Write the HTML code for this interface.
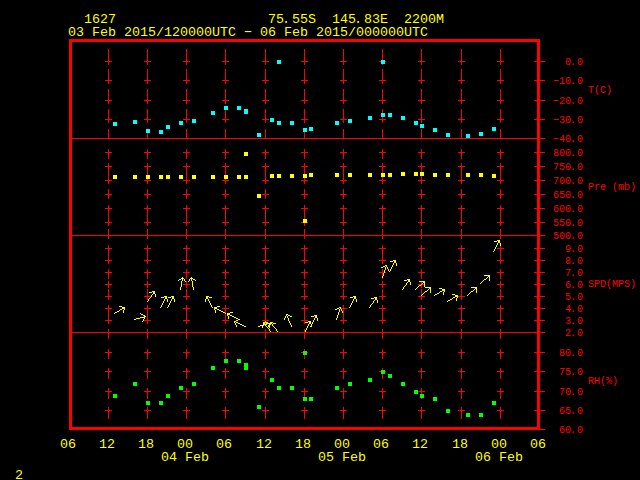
<!DOCTYPE html>
<html><head><meta charset="utf-8"><title>Meteogram 1627</title>
<style>html,body{margin:0;padding:0;background:#000;overflow:hidden}svg{display:block}</style></head>
<body>
<svg width="640" height="480" viewBox="0 0 640 480" shape-rendering="crispEdges">
<rect width="640" height="480" fill="#000"/>
<path fill="#ff0000" d="M108 49h1v10h-1zM108 69h1v10h-1zM108 89h1v10h-1zM108 109h1v10h-1zM108 129h1v10h-1zM108 149h1v10h-1zM108 169h1v10h-1zM108 189h1v10h-1zM108 209h1v10h-1zM108 229h1v10h-1zM108 249h1v10h-1zM108 269h1v10h-1zM108 289h1v10h-1zM108 309h1v10h-1zM108 329h1v10h-1zM108 349h1v10h-1zM108 369h1v10h-1zM108 389h1v10h-1zM108 409h1v10h-1zM105 61h7v1h-7zM108 58h1v7h-1zM105 80h7v1h-7zM108 77h1v7h-1zM105 100h7v1h-7zM108 97h1v7h-1zM105 119h7v1h-7zM108 116h1v7h-1zM105 152h7v1h-7zM108 149h1v7h-1zM105 166h7v1h-7zM108 163h1v7h-1zM105 180h7v1h-7zM108 177h1v7h-1zM105 194h7v1h-7zM108 191h1v7h-1zM105 208h7v1h-7zM108 205h1v7h-1zM105 222h7v1h-7zM108 219h1v7h-1zM105 248h7v1h-7zM108 245h1v7h-1zM105 260h7v1h-7zM108 257h1v7h-1zM105 272h7v1h-7zM108 269h1v7h-1zM105 284h7v1h-7zM108 281h1v7h-1zM105 296h7v1h-7zM108 293h1v7h-1zM105 308h7v1h-7zM108 305h1v7h-1zM105 320h7v1h-7zM108 317h1v7h-1zM105 352h7v1h-7zM108 349h1v7h-1zM105 371h7v1h-7zM108 368h1v7h-1zM105 391h7v1h-7zM108 388h1v7h-1zM105 410h7v1h-7zM108 407h1v7h-1zM147 49h1v10h-1zM147 69h1v10h-1zM147 89h1v10h-1zM147 109h1v10h-1zM147 129h1v10h-1zM147 149h1v10h-1zM147 169h1v10h-1zM147 189h1v10h-1zM147 209h1v10h-1zM147 229h1v10h-1zM147 249h1v10h-1zM147 269h1v10h-1zM147 289h1v10h-1zM147 309h1v10h-1zM147 329h1v10h-1zM147 349h1v10h-1zM147 369h1v10h-1zM147 389h1v10h-1zM147 409h1v10h-1zM144 61h7v1h-7zM147 58h1v7h-1zM144 80h7v1h-7zM147 77h1v7h-1zM144 100h7v1h-7zM147 97h1v7h-1zM144 119h7v1h-7zM147 116h1v7h-1zM144 152h7v1h-7zM147 149h1v7h-1zM144 166h7v1h-7zM147 163h1v7h-1zM144 180h7v1h-7zM147 177h1v7h-1zM144 194h7v1h-7zM147 191h1v7h-1zM144 208h7v1h-7zM147 205h1v7h-1zM144 222h7v1h-7zM147 219h1v7h-1zM144 248h7v1h-7zM147 245h1v7h-1zM144 260h7v1h-7zM147 257h1v7h-1zM144 272h7v1h-7zM147 269h1v7h-1zM144 284h7v1h-7zM147 281h1v7h-1zM144 296h7v1h-7zM147 293h1v7h-1zM144 308h7v1h-7zM147 305h1v7h-1zM144 320h7v1h-7zM147 317h1v7h-1zM144 352h7v1h-7zM147 349h1v7h-1zM144 371h7v1h-7zM147 368h1v7h-1zM144 391h7v1h-7zM147 388h1v7h-1zM144 410h7v1h-7zM147 407h1v7h-1zM186 49h1v10h-1zM186 69h1v10h-1zM186 89h1v10h-1zM186 109h1v10h-1zM186 129h1v10h-1zM186 149h1v10h-1zM186 169h1v10h-1zM186 189h1v10h-1zM186 209h1v10h-1zM186 229h1v10h-1zM186 249h1v10h-1zM186 269h1v10h-1zM186 289h1v10h-1zM186 309h1v10h-1zM186 329h1v10h-1zM186 349h1v10h-1zM186 369h1v10h-1zM186 389h1v10h-1zM186 409h1v10h-1zM183 61h7v1h-7zM186 58h1v7h-1zM183 80h7v1h-7zM186 77h1v7h-1zM183 100h7v1h-7zM186 97h1v7h-1zM183 119h7v1h-7zM186 116h1v7h-1zM183 152h7v1h-7zM186 149h1v7h-1zM183 166h7v1h-7zM186 163h1v7h-1zM183 180h7v1h-7zM186 177h1v7h-1zM183 194h7v1h-7zM186 191h1v7h-1zM183 208h7v1h-7zM186 205h1v7h-1zM183 222h7v1h-7zM186 219h1v7h-1zM183 248h7v1h-7zM186 245h1v7h-1zM183 260h7v1h-7zM186 257h1v7h-1zM183 272h7v1h-7zM186 269h1v7h-1zM183 284h7v1h-7zM186 281h1v7h-1zM183 296h7v1h-7zM186 293h1v7h-1zM183 308h7v1h-7zM186 305h1v7h-1zM183 320h7v1h-7zM186 317h1v7h-1zM183 352h7v1h-7zM186 349h1v7h-1zM183 371h7v1h-7zM186 368h1v7h-1zM183 391h7v1h-7zM186 388h1v7h-1zM183 410h7v1h-7zM186 407h1v7h-1zM225 49h1v10h-1zM225 69h1v10h-1zM225 89h1v10h-1zM225 109h1v10h-1zM225 129h1v10h-1zM225 149h1v10h-1zM225 169h1v10h-1zM225 189h1v10h-1zM225 209h1v10h-1zM225 229h1v10h-1zM225 249h1v10h-1zM225 269h1v10h-1zM225 289h1v10h-1zM225 309h1v10h-1zM225 329h1v10h-1zM225 349h1v10h-1zM225 369h1v10h-1zM225 389h1v10h-1zM225 409h1v10h-1zM222 61h7v1h-7zM225 58h1v7h-1zM222 80h7v1h-7zM225 77h1v7h-1zM222 100h7v1h-7zM225 97h1v7h-1zM222 119h7v1h-7zM225 116h1v7h-1zM222 152h7v1h-7zM225 149h1v7h-1zM222 166h7v1h-7zM225 163h1v7h-1zM222 180h7v1h-7zM225 177h1v7h-1zM222 194h7v1h-7zM225 191h1v7h-1zM222 208h7v1h-7zM225 205h1v7h-1zM222 222h7v1h-7zM225 219h1v7h-1zM222 248h7v1h-7zM225 245h1v7h-1zM222 260h7v1h-7zM225 257h1v7h-1zM222 272h7v1h-7zM225 269h1v7h-1zM222 284h7v1h-7zM225 281h1v7h-1zM222 296h7v1h-7zM225 293h1v7h-1zM222 308h7v1h-7zM225 305h1v7h-1zM222 320h7v1h-7zM225 317h1v7h-1zM222 352h7v1h-7zM225 349h1v7h-1zM222 371h7v1h-7zM225 368h1v7h-1zM222 391h7v1h-7zM225 388h1v7h-1zM222 410h7v1h-7zM225 407h1v7h-1zM265 49h1v10h-1zM265 69h1v10h-1zM265 89h1v10h-1zM265 109h1v10h-1zM265 129h1v10h-1zM265 149h1v10h-1zM265 169h1v10h-1zM265 189h1v10h-1zM265 209h1v10h-1zM265 229h1v10h-1zM265 249h1v10h-1zM265 269h1v10h-1zM265 289h1v10h-1zM265 309h1v10h-1zM265 329h1v10h-1zM265 349h1v10h-1zM265 369h1v10h-1zM265 389h1v10h-1zM265 409h1v10h-1zM262 61h7v1h-7zM265 58h1v7h-1zM262 80h7v1h-7zM265 77h1v7h-1zM262 100h7v1h-7zM265 97h1v7h-1zM262 119h7v1h-7zM265 116h1v7h-1zM262 152h7v1h-7zM265 149h1v7h-1zM262 166h7v1h-7zM265 163h1v7h-1zM262 180h7v1h-7zM265 177h1v7h-1zM262 194h7v1h-7zM265 191h1v7h-1zM262 208h7v1h-7zM265 205h1v7h-1zM262 222h7v1h-7zM265 219h1v7h-1zM262 248h7v1h-7zM265 245h1v7h-1zM262 260h7v1h-7zM265 257h1v7h-1zM262 272h7v1h-7zM265 269h1v7h-1zM262 284h7v1h-7zM265 281h1v7h-1zM262 296h7v1h-7zM265 293h1v7h-1zM262 308h7v1h-7zM265 305h1v7h-1zM262 320h7v1h-7zM265 317h1v7h-1zM262 352h7v1h-7zM265 349h1v7h-1zM262 371h7v1h-7zM265 368h1v7h-1zM262 391h7v1h-7zM265 388h1v7h-1zM262 410h7v1h-7zM265 407h1v7h-1zM304 49h1v10h-1zM304 69h1v10h-1zM304 89h1v10h-1zM304 109h1v10h-1zM304 129h1v10h-1zM304 149h1v10h-1zM304 169h1v10h-1zM304 189h1v10h-1zM304 209h1v10h-1zM304 229h1v10h-1zM304 249h1v10h-1zM304 269h1v10h-1zM304 289h1v10h-1zM304 309h1v10h-1zM304 329h1v10h-1zM304 349h1v10h-1zM304 369h1v10h-1zM304 389h1v10h-1zM304 409h1v10h-1zM301 61h7v1h-7zM304 58h1v7h-1zM301 80h7v1h-7zM304 77h1v7h-1zM301 100h7v1h-7zM304 97h1v7h-1zM301 119h7v1h-7zM304 116h1v7h-1zM301 152h7v1h-7zM304 149h1v7h-1zM301 166h7v1h-7zM304 163h1v7h-1zM301 180h7v1h-7zM304 177h1v7h-1zM301 194h7v1h-7zM304 191h1v7h-1zM301 208h7v1h-7zM304 205h1v7h-1zM301 222h7v1h-7zM304 219h1v7h-1zM301 248h7v1h-7zM304 245h1v7h-1zM301 260h7v1h-7zM304 257h1v7h-1zM301 272h7v1h-7zM304 269h1v7h-1zM301 284h7v1h-7zM304 281h1v7h-1zM301 296h7v1h-7zM304 293h1v7h-1zM301 308h7v1h-7zM304 305h1v7h-1zM301 320h7v1h-7zM304 317h1v7h-1zM301 352h7v1h-7zM304 349h1v7h-1zM301 371h7v1h-7zM304 368h1v7h-1zM301 391h7v1h-7zM304 388h1v7h-1zM301 410h7v1h-7zM304 407h1v7h-1zM343 49h1v10h-1zM343 69h1v10h-1zM343 89h1v10h-1zM343 109h1v10h-1zM343 129h1v10h-1zM343 149h1v10h-1zM343 169h1v10h-1zM343 189h1v10h-1zM343 209h1v10h-1zM343 229h1v10h-1zM343 249h1v10h-1zM343 269h1v10h-1zM343 289h1v10h-1zM343 309h1v10h-1zM343 329h1v10h-1zM343 349h1v10h-1zM343 369h1v10h-1zM343 389h1v10h-1zM343 409h1v10h-1zM340 61h7v1h-7zM343 58h1v7h-1zM340 80h7v1h-7zM343 77h1v7h-1zM340 100h7v1h-7zM343 97h1v7h-1zM340 119h7v1h-7zM343 116h1v7h-1zM340 152h7v1h-7zM343 149h1v7h-1zM340 166h7v1h-7zM343 163h1v7h-1zM340 180h7v1h-7zM343 177h1v7h-1zM340 194h7v1h-7zM343 191h1v7h-1zM340 208h7v1h-7zM343 205h1v7h-1zM340 222h7v1h-7zM343 219h1v7h-1zM340 248h7v1h-7zM343 245h1v7h-1zM340 260h7v1h-7zM343 257h1v7h-1zM340 272h7v1h-7zM343 269h1v7h-1zM340 284h7v1h-7zM343 281h1v7h-1zM340 296h7v1h-7zM343 293h1v7h-1zM340 308h7v1h-7zM343 305h1v7h-1zM340 320h7v1h-7zM343 317h1v7h-1zM340 352h7v1h-7zM343 349h1v7h-1zM340 371h7v1h-7zM343 368h1v7h-1zM340 391h7v1h-7zM343 388h1v7h-1zM340 410h7v1h-7zM343 407h1v7h-1zM382 49h1v10h-1zM382 69h1v10h-1zM382 89h1v10h-1zM382 109h1v10h-1zM382 129h1v10h-1zM382 149h1v10h-1zM382 169h1v10h-1zM382 189h1v10h-1zM382 209h1v10h-1zM382 229h1v10h-1zM382 249h1v10h-1zM382 269h1v10h-1zM382 289h1v10h-1zM382 309h1v10h-1zM382 329h1v10h-1zM382 349h1v10h-1zM382 369h1v10h-1zM382 389h1v10h-1zM382 409h1v10h-1zM379 61h7v1h-7zM382 58h1v7h-1zM379 80h7v1h-7zM382 77h1v7h-1zM379 100h7v1h-7zM382 97h1v7h-1zM379 119h7v1h-7zM382 116h1v7h-1zM379 152h7v1h-7zM382 149h1v7h-1zM379 166h7v1h-7zM382 163h1v7h-1zM379 180h7v1h-7zM382 177h1v7h-1zM379 194h7v1h-7zM382 191h1v7h-1zM379 208h7v1h-7zM382 205h1v7h-1zM379 222h7v1h-7zM382 219h1v7h-1zM379 248h7v1h-7zM382 245h1v7h-1zM379 260h7v1h-7zM382 257h1v7h-1zM379 272h7v1h-7zM382 269h1v7h-1zM379 284h7v1h-7zM382 281h1v7h-1zM379 296h7v1h-7zM382 293h1v7h-1zM379 308h7v1h-7zM382 305h1v7h-1zM379 320h7v1h-7zM382 317h1v7h-1zM379 352h7v1h-7zM382 349h1v7h-1zM379 371h7v1h-7zM382 368h1v7h-1zM379 391h7v1h-7zM382 388h1v7h-1zM379 410h7v1h-7zM382 407h1v7h-1zM421 49h1v10h-1zM421 69h1v10h-1zM421 89h1v10h-1zM421 109h1v10h-1zM421 129h1v10h-1zM421 149h1v10h-1zM421 169h1v10h-1zM421 189h1v10h-1zM421 209h1v10h-1zM421 229h1v10h-1zM421 249h1v10h-1zM421 269h1v10h-1zM421 289h1v10h-1zM421 309h1v10h-1zM421 329h1v10h-1zM421 349h1v10h-1zM421 369h1v10h-1zM421 389h1v10h-1zM421 409h1v10h-1zM418 61h7v1h-7zM421 58h1v7h-1zM418 80h7v1h-7zM421 77h1v7h-1zM418 100h7v1h-7zM421 97h1v7h-1zM418 119h7v1h-7zM421 116h1v7h-1zM418 152h7v1h-7zM421 149h1v7h-1zM418 166h7v1h-7zM421 163h1v7h-1zM418 180h7v1h-7zM421 177h1v7h-1zM418 194h7v1h-7zM421 191h1v7h-1zM418 208h7v1h-7zM421 205h1v7h-1zM418 222h7v1h-7zM421 219h1v7h-1zM418 248h7v1h-7zM421 245h1v7h-1zM418 260h7v1h-7zM421 257h1v7h-1zM418 272h7v1h-7zM421 269h1v7h-1zM418 284h7v1h-7zM421 281h1v7h-1zM418 296h7v1h-7zM421 293h1v7h-1zM418 308h7v1h-7zM421 305h1v7h-1zM418 320h7v1h-7zM421 317h1v7h-1zM418 352h7v1h-7zM421 349h1v7h-1zM418 371h7v1h-7zM421 368h1v7h-1zM418 391h7v1h-7zM421 388h1v7h-1zM418 410h7v1h-7zM421 407h1v7h-1zM461 49h1v10h-1zM461 69h1v10h-1zM461 89h1v10h-1zM461 109h1v10h-1zM461 129h1v10h-1zM461 149h1v10h-1zM461 169h1v10h-1zM461 189h1v10h-1zM461 209h1v10h-1zM461 229h1v10h-1zM461 249h1v10h-1zM461 269h1v10h-1zM461 289h1v10h-1zM461 309h1v10h-1zM461 329h1v10h-1zM461 349h1v10h-1zM461 369h1v10h-1zM461 389h1v10h-1zM461 409h1v10h-1zM458 61h7v1h-7zM461 58h1v7h-1zM458 80h7v1h-7zM461 77h1v7h-1zM458 100h7v1h-7zM461 97h1v7h-1zM458 119h7v1h-7zM461 116h1v7h-1zM458 152h7v1h-7zM461 149h1v7h-1zM458 166h7v1h-7zM461 163h1v7h-1zM458 180h7v1h-7zM461 177h1v7h-1zM458 194h7v1h-7zM461 191h1v7h-1zM458 208h7v1h-7zM461 205h1v7h-1zM458 222h7v1h-7zM461 219h1v7h-1zM458 248h7v1h-7zM461 245h1v7h-1zM458 260h7v1h-7zM461 257h1v7h-1zM458 272h7v1h-7zM461 269h1v7h-1zM458 284h7v1h-7zM461 281h1v7h-1zM458 296h7v1h-7zM461 293h1v7h-1zM458 308h7v1h-7zM461 305h1v7h-1zM458 320h7v1h-7zM461 317h1v7h-1zM458 352h7v1h-7zM461 349h1v7h-1zM458 371h7v1h-7zM461 368h1v7h-1zM458 391h7v1h-7zM461 388h1v7h-1zM458 410h7v1h-7zM461 407h1v7h-1zM500 49h1v10h-1zM500 69h1v10h-1zM500 89h1v10h-1zM500 109h1v10h-1zM500 129h1v10h-1zM500 149h1v10h-1zM500 169h1v10h-1zM500 189h1v10h-1zM500 209h1v10h-1zM500 229h1v10h-1zM500 249h1v10h-1zM500 269h1v10h-1zM500 289h1v10h-1zM500 309h1v10h-1zM500 329h1v10h-1zM500 349h1v10h-1zM500 369h1v10h-1zM500 389h1v10h-1zM500 409h1v10h-1zM497 61h7v1h-7zM500 58h1v7h-1zM497 80h7v1h-7zM500 77h1v7h-1zM497 100h7v1h-7zM500 97h1v7h-1zM497 119h7v1h-7zM500 116h1v7h-1zM497 152h7v1h-7zM500 149h1v7h-1zM497 166h7v1h-7zM500 163h1v7h-1zM497 180h7v1h-7zM500 177h1v7h-1zM497 194h7v1h-7zM500 191h1v7h-1zM497 208h7v1h-7zM500 205h1v7h-1zM497 222h7v1h-7zM500 219h1v7h-1zM497 248h7v1h-7zM500 245h1v7h-1zM497 260h7v1h-7zM500 257h1v7h-1zM497 272h7v1h-7zM500 269h1v7h-1zM497 284h7v1h-7zM500 281h1v7h-1zM497 296h7v1h-7zM500 293h1v7h-1zM497 308h7v1h-7zM500 305h1v7h-1zM497 320h7v1h-7zM500 317h1v7h-1zM497 352h7v1h-7zM500 349h1v7h-1zM497 371h7v1h-7zM500 368h1v7h-1zM497 391h7v1h-7zM500 388h1v7h-1zM497 410h7v1h-7zM500 407h1v7h-1zM70 138h475v1h-475zM70 235h475v1h-475zM70 332h475v1h-475zM534 61h11v1h-11zM534 80h11v1h-11zM534 100h11v1h-11zM534 119h11v1h-11zM534 138h11v1h-11zM534 152h11v1h-11zM534 166h11v1h-11zM534 180h11v1h-11zM534 194h11v1h-11zM534 208h11v1h-11zM534 222h11v1h-11zM534 235h11v1h-11zM534 248h11v1h-11zM534 260h11v1h-11zM534 272h11v1h-11zM534 284h11v1h-11zM534 296h11v1h-11zM534 308h11v1h-11zM534 320h11v1h-11zM534 332h11v1h-11zM534 352h11v1h-11zM534 371h11v1h-11zM534 391h11v1h-11zM534 410h11v1h-11zM537 429h8v1h-8zM69 39h471v3h-471zM69 427h471v3h-471zM69 39h3v391h-3zM537 39h3v391h-3z"/>
<path fill="#00ffff" d="M113 122h4v4h-4zM133 120h4v4h-4zM146 129h4v4h-4zM159 130h4v4h-4zM166 125h4v4h-4zM179 121h4v4h-4zM192 119h4v4h-4zM211 111h4v4h-4zM224 106h4v4h-4zM237 106h4v4h-4zM244 109h4v5h-4zM257 133h4v4h-4zM270 118h4v4h-4zM277 60h4v4h-4zM277 121h4v4h-4zM290 121h4v4h-4zM303 128h4v4h-4zM309 127h4v4h-4zM335 121h4v4h-4zM348 119h4v4h-4zM368 116h4v4h-4zM381 60h4v4h-4zM381 113h4v4h-4zM388 113h4v4h-4zM401 116h4v4h-4zM414 121h4v4h-4zM420 124h4v4h-4zM433 128h4v4h-4zM446 133h4v4h-4zM466 134h4v4h-4zM479 132h4v4h-4zM492 127h4v4h-4z"/>
<path fill="#ffff00" d="M113 175h4v4h-4zM133 175h4v4h-4zM146 175h4v4h-4zM159 175h4v4h-4zM166 175h4v4h-4zM179 175h4v4h-4zM192 175h4v4h-4zM211 175h4v4h-4zM224 175h4v4h-4zM237 175h4v4h-4zM244 152h4v4h-4zM244 175h4v4h-4zM257 194h4v4h-4zM270 174h4v4h-4zM277 174h4v4h-4zM290 174h4v4h-4zM303 174h4v4h-4zM303 219h4v4h-4zM309 173h4v4h-4zM335 173h4v4h-4zM348 173h4v4h-4zM368 173h4v4h-4zM381 173h4v4h-4zM388 173h4v4h-4zM401 172h4v4h-4zM414 172h4v4h-4zM420 172h4v4h-4zM433 173h4v4h-4zM446 173h4v4h-4zM466 173h4v4h-4zM479 173h4v4h-4zM492 174h4v4h-4z"/>
<path fill="#00ff00" d="M113 394h4v4h-4zM133 382h4v4h-4zM146 401h4v4h-4zM159 401h4v4h-4zM166 394h4v4h-4zM179 386h4v4h-4zM192 382h4v4h-4zM211 366h4v4h-4zM224 359h4v4h-4zM237 359h4v4h-4zM244 363h4v7h-4zM257 405h4v4h-4zM270 378h4v4h-4zM277 386h4v4h-4zM290 386h4v4h-4zM303 351h4v4h-4zM303 397h4v4h-4zM309 397h4v4h-4zM335 386h4v4h-4zM348 382h4v4h-4zM368 378h4v4h-4zM381 370h4v4h-4zM388 374h4v4h-4zM401 382h4v4h-4zM414 390h4v4h-4zM420 394h4v4h-4zM433 397h4v4h-4zM446 409h4v4h-4zM466 413h4v4h-4zM479 413h4v4h-4zM492 401h4v4h-4z"/>
<path fill="#ffff00" d="M114 313h1v1h-1zM115 312h1v1h-1zM116 312h1v1h-1zM117 311h1v1h-1zM118 311h1v1h-1zM119 306h1v1h-1zM119 310h1v1h-1zM120 306h1v1h-1zM120 309h1v1h-1zM121 306h1v1h-1zM121 309h1v1h-1zM122 307h1v1h-1zM122 308h1v1h-1zM123 307h1v1h-1zM123 308h1v1h-1zM123 310h1v1h-1zM123 311h1v1h-1zM123 312h1v1h-1zM124 307h1v1h-1zM124 308h1v1h-1zM124 309h1v1h-1zM134 319h1v1h-1zM135 319h1v1h-1zM136 318h1v1h-1zM137 318h1v1h-1zM138 318h1v1h-1zM139 318h1v1h-1zM140 313h1v1h-1zM140 317h1v1h-1zM141 314h1v1h-1zM141 317h1v1h-1zM142 314h1v1h-1zM142 317h1v1h-1zM142 321h1v1h-1zM143 315h1v1h-1zM143 317h1v1h-1zM143 319h1v1h-1zM143 320h1v1h-1zM144 315h1v1h-1zM144 316h1v1h-1zM144 317h1v1h-1zM144 318h1v1h-1zM145 316h1v1h-1zM147 301h1v1h-1zM148 299h1v1h-1zM148 300h1v1h-1zM149 292h1v1h-1zM149 298h1v1h-1zM150 292h1v1h-1zM150 297h1v1h-1zM151 292h1v1h-1zM151 295h1v1h-1zM151 296h1v1h-1zM152 291h1v1h-1zM152 294h1v1h-1zM153 291h1v1h-1zM153 292h1v1h-1zM153 293h1v1h-1zM154 291h1v1h-1zM154 292h1v1h-1zM154 293h1v1h-1zM155 294h1v1h-1zM155 295h1v1h-1zM155 296h1v1h-1zM160 307h1v1h-1zM161 297h1v1h-1zM161 305h1v1h-1zM161 306h1v1h-1zM162 297h1v1h-1zM162 303h1v1h-1zM162 304h1v1h-1zM163 297h1v1h-1zM163 301h1v1h-1zM163 302h1v1h-1zM164 296h1v1h-1zM164 299h1v1h-1zM164 300h1v1h-1zM165 296h1v1h-1zM165 297h1v1h-1zM165 298h1v1h-1zM166 296h1v1h-1zM166 297h1v1h-1zM166 298h1v1h-1zM167 299h1v1h-1zM167 300h1v1h-1zM167 301h1v1h-1zM167 307h1v1h-1zM168 297h1v1h-1zM168 305h1v1h-1zM168 306h1v1h-1zM169 297h1v1h-1zM169 303h1v1h-1zM169 304h1v1h-1zM170 297h1v1h-1zM170 301h1v1h-1zM170 302h1v1h-1zM171 296h1v1h-1zM171 299h1v1h-1zM171 300h1v1h-1zM172 296h1v1h-1zM172 297h1v1h-1zM172 298h1v1h-1zM173 296h1v1h-1zM173 297h1v1h-1zM173 298h1v1h-1zM174 299h1v1h-1zM174 300h1v1h-1zM174 301h1v1h-1zM178 280h1v1h-1zM179 279h1v1h-1zM180 279h1v1h-1zM180 287h1v1h-1zM180 288h1v1h-1zM180 289h1v1h-1zM181 278h1v1h-1zM181 281h1v1h-1zM181 282h1v1h-1zM181 283h1v1h-1zM181 284h1v1h-1zM181 285h1v1h-1zM181 286h1v1h-1zM182 277h1v1h-1zM182 278h1v1h-1zM182 279h1v1h-1zM182 280h1v1h-1zM183 278h1v1h-1zM184 279h1v1h-1zM184 280h1v1h-1zM185 281h1v1h-1zM188 281h1v1h-1zM189 279h1v1h-1zM189 280h1v1h-1zM190 278h1v1h-1zM191 277h1v1h-1zM191 278h1v1h-1zM191 279h1v1h-1zM191 280h1v1h-1zM192 278h1v1h-1zM192 281h1v1h-1zM192 282h1v1h-1zM192 283h1v1h-1zM192 284h1v1h-1zM192 285h1v1h-1zM192 286h1v1h-1zM193 279h1v1h-1zM193 287h1v1h-1zM193 288h1v1h-1zM193 289h1v1h-1zM194 279h1v1h-1zM195 280h1v1h-1zM205 299h1v1h-1zM205 300h1v1h-1zM205 301h1v1h-1zM206 296h1v1h-1zM206 297h1v1h-1zM206 298h1v1h-1zM207 296h1v1h-1zM207 297h1v1h-1zM207 298h1v1h-1zM208 296h1v1h-1zM208 299h1v1h-1zM208 300h1v1h-1zM209 297h1v1h-1zM209 301h1v1h-1zM209 302h1v1h-1zM210 297h1v1h-1zM210 303h1v1h-1zM210 304h1v1h-1zM211 297h1v1h-1zM211 305h1v1h-1zM211 306h1v1h-1zM212 307h1v1h-1zM214 307h1v1h-1zM214 308h1v1h-1zM214 309h1v1h-1zM215 307h1v1h-1zM215 308h1v1h-1zM215 310h1v1h-1zM215 311h1v1h-1zM215 312h1v1h-1zM216 307h1v1h-1zM216 308h1v1h-1zM217 306h1v1h-1zM217 309h1v1h-1zM218 306h1v1h-1zM218 309h1v1h-1zM219 306h1v1h-1zM219 310h1v1h-1zM220 310h1v1h-1zM221 311h1v1h-1zM222 311h1v1h-1zM223 312h1v1h-1zM224 312h1v1h-1zM225 313h1v1h-1zM227 313h1v1h-1zM227 314h1v1h-1zM227 315h1v1h-1zM228 313h1v1h-1zM228 314h1v1h-1zM228 316h1v1h-1zM228 317h1v1h-1zM228 318h1v1h-1zM229 313h1v1h-1zM229 314h1v1h-1zM230 312h1v1h-1zM230 315h1v1h-1zM231 312h1v1h-1zM231 315h1v1h-1zM232 312h1v1h-1zM232 316h1v1h-1zM233 316h1v1h-1zM234 317h1v1h-1zM234 321h1v1h-1zM234 322h1v1h-1zM235 317h1v1h-1zM235 321h1v1h-1zM235 323h1v1h-1zM235 324h1v1h-1zM236 318h1v1h-1zM236 320h1v1h-1zM236 322h1v1h-1zM236 325h1v1h-1zM236 326h1v1h-1zM237 318h1v1h-1zM237 320h1v1h-1zM237 322h1v1h-1zM238 319h1v1h-1zM238 323h1v1h-1zM239 319h1v1h-1zM239 323h1v1h-1zM240 324h1v1h-1zM241 324h1v1h-1zM242 325h1v1h-1zM243 325h1v1h-1zM244 326h1v1h-1zM245 326h1v1h-1zM258 326h1v1h-1zM259 326h1v1h-1zM260 325h1v1h-1zM261 325h1v1h-1zM262 325h1v1h-1zM262 326h1v1h-1zM262 327h1v1h-1zM263 322h1v1h-1zM263 323h1v1h-1zM263 324h1v1h-1zM263 325h1v1h-1zM264 322h1v1h-1zM264 323h1v1h-1zM264 324h1v1h-1zM265 321h1v1h-1zM265 322h1v1h-1zM265 324h1v1h-1zM265 325h1v1h-1zM266 322h1v1h-1zM266 323h1v1h-1zM266 324h1v1h-1zM266 326h1v1h-1zM267 322h1v1h-1zM267 323h1v1h-1zM267 327h1v1h-1zM268 323h1v1h-1zM268 325h1v1h-1zM268 326h1v1h-1zM268 328h1v1h-1zM269 323h1v1h-1zM269 324h1v1h-1zM269 325h1v1h-1zM269 326h1v1h-1zM269 327h1v1h-1zM269 329h1v1h-1zM269 330h1v1h-1zM270 322h1v1h-1zM270 323h1v1h-1zM270 324h1v1h-1zM270 331h1v1h-1zM271 322h1v1h-1zM271 323h1v1h-1zM272 322h1v1h-1zM272 324h1v1h-1zM272 325h1v1h-1zM273 323h1v1h-1zM273 326h1v1h-1zM274 323h1v1h-1zM274 327h1v1h-1zM275 323h1v1h-1zM275 328h1v1h-1zM276 329h1v1h-1zM276 330h1v1h-1zM277 331h1v1h-1zM284 318h1v1h-1zM284 319h1v1h-1zM285 316h1v1h-1zM285 317h1v1h-1zM286 314h1v1h-1zM286 315h1v1h-1zM287 314h1v1h-1zM287 316h1v1h-1zM287 317h1v1h-1zM288 315h1v1h-1zM288 318h1v1h-1zM288 319h1v1h-1zM288 320h1v1h-1zM289 315h1v1h-1zM289 321h1v1h-1zM289 322h1v1h-1zM290 316h1v1h-1zM290 323h1v1h-1zM290 324h1v1h-1zM291 316h1v1h-1zM291 325h1v1h-1zM291 326h1v1h-1zM305 322h1v1h-1zM305 330h1v1h-1zM305 331h1v1h-1zM306 322h1v1h-1zM306 328h1v1h-1zM306 329h1v1h-1zM307 322h1v1h-1zM307 326h1v1h-1zM307 327h1v1h-1zM308 321h1v1h-1zM308 324h1v1h-1zM308 325h1v1h-1zM309 321h1v1h-1zM309 322h1v1h-1zM309 323h1v1h-1zM310 321h1v1h-1zM310 322h1v1h-1zM310 323h1v1h-1zM310 326h1v1h-1zM311 316h1v1h-1zM311 324h1v1h-1zM311 325h1v1h-1zM311 326h1v1h-1zM312 316h1v1h-1zM312 322h1v1h-1zM312 323h1v1h-1zM313 316h1v1h-1zM313 320h1v1h-1zM313 321h1v1h-1zM314 315h1v1h-1zM314 318h1v1h-1zM314 319h1v1h-1zM315 315h1v1h-1zM315 316h1v1h-1zM315 317h1v1h-1zM316 315h1v1h-1zM316 316h1v1h-1zM316 317h1v1h-1zM317 318h1v1h-1zM317 319h1v1h-1zM317 320h1v1h-1zM335 309h1v1h-1zM336 309h1v1h-1zM336 318h1v1h-1zM336 319h1v1h-1zM337 308h1v1h-1zM337 315h1v1h-1zM337 316h1v1h-1zM337 317h1v1h-1zM338 308h1v1h-1zM338 312h1v1h-1zM338 313h1v1h-1zM338 314h1v1h-1zM339 307h1v1h-1zM339 309h1v1h-1zM339 310h1v1h-1zM339 311h1v1h-1zM340 307h1v1h-1zM340 308h1v1h-1zM341 309h1v1h-1zM341 310h1v1h-1zM342 311h1v1h-1zM342 312h1v1h-1zM349 307h1v1h-1zM350 297h1v1h-1zM350 305h1v1h-1zM350 306h1v1h-1zM351 297h1v1h-1zM351 303h1v1h-1zM351 304h1v1h-1zM352 297h1v1h-1zM352 301h1v1h-1zM352 302h1v1h-1zM353 296h1v1h-1zM353 299h1v1h-1zM353 300h1v1h-1zM354 296h1v1h-1zM354 297h1v1h-1zM354 298h1v1h-1zM355 296h1v1h-1zM355 297h1v1h-1zM355 298h1v1h-1zM356 299h1v1h-1zM356 300h1v1h-1zM356 301h1v1h-1zM369 307h1v1h-1zM370 305h1v1h-1zM370 306h1v1h-1zM371 298h1v1h-1zM371 304h1v1h-1zM372 298h1v1h-1zM372 303h1v1h-1zM373 298h1v1h-1zM373 301h1v1h-1zM373 302h1v1h-1zM374 297h1v1h-1zM374 300h1v1h-1zM375 297h1v1h-1zM375 298h1v1h-1zM375 299h1v1h-1zM376 297h1v1h-1zM376 298h1v1h-1zM376 299h1v1h-1zM377 300h1v1h-1zM377 301h1v1h-1zM377 302h1v1h-1zM381 267h1v1h-1zM382 267h1v1h-1zM382 276h1v1h-1zM382 277h1v1h-1zM383 266h1v1h-1zM383 273h1v1h-1zM383 274h1v1h-1zM383 275h1v1h-1zM384 266h1v1h-1zM384 270h1v1h-1zM384 271h1v1h-1zM384 272h1v1h-1zM385 265h1v1h-1zM385 267h1v1h-1zM385 268h1v1h-1zM385 269h1v1h-1zM386 265h1v1h-1zM386 266h1v1h-1zM387 267h1v1h-1zM387 268h1v1h-1zM388 269h1v1h-1zM388 270h1v1h-1zM389 271h1v1h-1zM390 261h1v1h-1zM390 269h1v1h-1zM390 270h1v1h-1zM391 261h1v1h-1zM391 267h1v1h-1zM391 268h1v1h-1zM392 261h1v1h-1zM392 265h1v1h-1zM392 266h1v1h-1zM393 260h1v1h-1zM393 263h1v1h-1zM393 264h1v1h-1zM394 260h1v1h-1zM394 261h1v1h-1zM394 262h1v1h-1zM395 260h1v1h-1zM395 261h1v1h-1zM395 262h1v1h-1zM396 263h1v1h-1zM396 264h1v1h-1zM396 265h1v1h-1zM402 289h1v1h-1zM403 287h1v1h-1zM403 288h1v1h-1zM404 280h1v1h-1zM404 286h1v1h-1zM405 280h1v1h-1zM405 285h1v1h-1zM406 280h1v1h-1zM406 283h1v1h-1zM406 284h1v1h-1zM407 279h1v1h-1zM407 282h1v1h-1zM408 279h1v1h-1zM408 280h1v1h-1zM408 281h1v1h-1zM409 279h1v1h-1zM409 280h1v1h-1zM409 281h1v1h-1zM410 282h1v1h-1zM410 283h1v1h-1zM410 284h1v1h-1zM415 289h1v1h-1zM416 288h1v1h-1zM417 287h1v1h-1zM418 286h1v1h-1zM419 281h1v1h-1zM419 285h1v1h-1zM420 281h1v1h-1zM420 285h1v1h-1zM421 281h1v1h-1zM421 284h1v1h-1zM421 295h1v1h-1zM422 281h1v1h-1zM422 283h1v1h-1zM422 294h1v1h-1zM423 281h1v1h-1zM423 282h1v1h-1zM423 293h1v1h-1zM424 281h1v1h-1zM424 282h1v1h-1zM424 283h1v1h-1zM424 284h1v1h-1zM424 285h1v1h-1zM424 286h1v1h-1zM424 292h1v1h-1zM425 287h1v1h-1zM425 291h1v1h-1zM426 287h1v1h-1zM426 291h1v1h-1zM427 287h1v1h-1zM427 290h1v1h-1zM428 287h1v1h-1zM428 289h1v1h-1zM429 287h1v1h-1zM429 288h1v1h-1zM430 287h1v1h-1zM430 288h1v1h-1zM430 289h1v1h-1zM430 290h1v1h-1zM430 291h1v1h-1zM430 292h1v1h-1zM434 295h1v1h-1zM435 294h1v1h-1zM436 294h1v1h-1zM437 293h1v1h-1zM438 293h1v1h-1zM439 288h1v1h-1zM439 292h1v1h-1zM440 288h1v1h-1zM440 291h1v1h-1zM441 288h1v1h-1zM441 291h1v1h-1zM442 289h1v1h-1zM442 290h1v1h-1zM443 289h1v1h-1zM443 290h1v1h-1zM443 292h1v1h-1zM443 293h1v1h-1zM443 294h1v1h-1zM444 289h1v1h-1zM444 290h1v1h-1zM444 291h1v1h-1zM447 301h1v1h-1zM448 300h1v1h-1zM449 300h1v1h-1zM450 299h1v1h-1zM451 299h1v1h-1zM452 294h1v1h-1zM452 298h1v1h-1zM453 294h1v1h-1zM453 297h1v1h-1zM454 294h1v1h-1zM454 297h1v1h-1zM455 295h1v1h-1zM455 296h1v1h-1zM456 295h1v1h-1zM456 296h1v1h-1zM456 298h1v1h-1zM456 299h1v1h-1zM456 300h1v1h-1zM457 295h1v1h-1zM457 296h1v1h-1zM457 297h1v1h-1zM467 295h1v1h-1zM468 294h1v1h-1zM469 293h1v1h-1zM470 292h1v1h-1zM471 287h1v1h-1zM471 291h1v1h-1zM472 287h1v1h-1zM472 291h1v1h-1zM473 287h1v1h-1zM473 290h1v1h-1zM474 287h1v1h-1zM474 289h1v1h-1zM475 287h1v1h-1zM475 288h1v1h-1zM476 287h1v1h-1zM476 288h1v1h-1zM476 289h1v1h-1zM476 290h1v1h-1zM476 291h1v1h-1zM476 292h1v1h-1zM480 283h1v1h-1zM481 282h1v1h-1zM482 281h1v1h-1zM483 280h1v1h-1zM484 275h1v1h-1zM484 279h1v1h-1zM485 275h1v1h-1zM485 279h1v1h-1zM486 275h1v1h-1zM486 278h1v1h-1zM487 275h1v1h-1zM487 277h1v1h-1zM488 275h1v1h-1zM488 276h1v1h-1zM489 275h1v1h-1zM489 276h1v1h-1zM489 277h1v1h-1zM489 278h1v1h-1zM489 279h1v1h-1zM489 280h1v1h-1zM493 251h1v1h-1zM494 241h1v1h-1zM494 249h1v1h-1zM494 250h1v1h-1zM495 241h1v1h-1zM495 247h1v1h-1zM495 248h1v1h-1zM496 241h1v1h-1zM496 245h1v1h-1zM496 246h1v1h-1zM497 240h1v1h-1zM497 243h1v1h-1zM497 244h1v1h-1zM498 240h1v1h-1zM498 241h1v1h-1zM498 242h1v1h-1zM499 240h1v1h-1zM499 241h1v1h-1zM499 242h1v1h-1zM500 243h1v1h-1zM500 244h1v1h-1zM500 245h1v1h-1z"/>
<g fill="#ffff00" font-family="Liberation Mono, monospace" font-size="13.333px" style="white-space:pre">
<text x="84" y="23">1627</text>
<text x="268" y="23">75<tspan dx="-2">.</tspan><tspan dx="2">55S</tspan></text>
<text x="332" y="23">145<tspan dx="-2">.</tspan><tspan dx="2">83E</tspan></text>
<text x="404" y="23">2200M</text>
<text x="68" y="36">03 Feb 2015/120000UTC <tspan dx="-3" dy="-1" textLength="14" lengthAdjust="spacingAndGlyphs">-</tspan><tspan dx="-3" dy="1"> 06 Feb 2015/000000UTC</tspan></text>
<text x="60" y="448">06</text>
<text x="99" y="448">12</text>
<text x="138" y="448">18</text>
<text x="177" y="448">00</text>
<text x="216" y="448">06</text>
<text x="256" y="448">12</text>
<text x="295" y="448">18</text>
<text x="334" y="448">00</text>
<text x="373" y="448">06</text>
<text x="412" y="448">12</text>
<text x="452" y="448">18</text>
<text x="491" y="448">00</text>
<text x="530" y="448">06</text>
<text x="161" y="461">04 Feb</text>
<text x="318" y="461">05 Feb</text>
<text x="475" y="461">06 Feb</text>
<text x="15" y="479">2</text>
</g>
<g fill="#ff0000" font-family="Liberation Mono, monospace" font-size="10px" style="white-space:pre">
<text x="565" y="65">0<tspan dx="-1">.</tspan><tspan dx="1">0</tspan></text>
<text x="553" y="84"><tspan dx="-2" dy="-1" textLength="10" lengthAdjust="spacingAndGlyphs">-</tspan><tspan dx="-2" dy="1">10</tspan><tspan dx="-1">.</tspan><tspan dx="1">0</tspan></text>
<text x="553" y="104"><tspan dx="-2" dy="-1" textLength="10" lengthAdjust="spacingAndGlyphs">-</tspan><tspan dx="-2" dy="1">20</tspan><tspan dx="-1">.</tspan><tspan dx="1">0</tspan></text>
<text x="553" y="123"><tspan dx="-2" dy="-1" textLength="10" lengthAdjust="spacingAndGlyphs">-</tspan><tspan dx="-2" dy="1">30</tspan><tspan dx="-1">.</tspan><tspan dx="1">0</tspan></text>
<text x="553" y="142"><tspan dx="-2" dy="-1" textLength="10" lengthAdjust="spacingAndGlyphs">-</tspan><tspan dx="-2" dy="1">40</tspan><tspan dx="-1">.</tspan><tspan dx="1">0</tspan></text>
<text x="553" y="156">800<tspan dx="-1">.</tspan><tspan dx="1">0</tspan></text>
<text x="553" y="170">750<tspan dx="-1">.</tspan><tspan dx="1">0</tspan></text>
<text x="553" y="184">700<tspan dx="-1">.</tspan><tspan dx="1">0</tspan></text>
<text x="553" y="198">650<tspan dx="-1">.</tspan><tspan dx="1">0</tspan></text>
<text x="553" y="212">600<tspan dx="-1">.</tspan><tspan dx="1">0</tspan></text>
<text x="553" y="226">550<tspan dx="-1">.</tspan><tspan dx="1">0</tspan></text>
<text x="553" y="239">500<tspan dx="-1">.</tspan><tspan dx="1">0</tspan></text>
<text x="565" y="252">9<tspan dx="-1">.</tspan><tspan dx="1">0</tspan></text>
<text x="565" y="264">8<tspan dx="-1">.</tspan><tspan dx="1">0</tspan></text>
<text x="565" y="276">7<tspan dx="-1">.</tspan><tspan dx="1">0</tspan></text>
<text x="565" y="288">6<tspan dx="-1">.</tspan><tspan dx="1">0</tspan></text>
<text x="565" y="300">5<tspan dx="-1">.</tspan><tspan dx="1">0</tspan></text>
<text x="565" y="312">4<tspan dx="-1">.</tspan><tspan dx="1">0</tspan></text>
<text x="565" y="324">3<tspan dx="-1">.</tspan><tspan dx="1">0</tspan></text>
<text x="565" y="336">2<tspan dx="-1">.</tspan><tspan dx="1">0</tspan></text>
<text x="559" y="356">80<tspan dx="-1">.</tspan><tspan dx="1">0</tspan></text>
<text x="559" y="375">75<tspan dx="-1">.</tspan><tspan dx="1">0</tspan></text>
<text x="559" y="395">70<tspan dx="-1">.</tspan><tspan dx="1">0</tspan></text>
<text x="559" y="414">65<tspan dx="-1">.</tspan><tspan dx="1">0</tspan></text>
<text x="559" y="433">60<tspan dx="-1">.</tspan><tspan dx="1">0</tspan></text>
<text x="588" y="93">T(C)</text>
<text x="588" y="190">Pre (mb)</text>
<text x="588" y="287">SPD(MPS)</text>
<text x="588" y="384">RH(%)</text>
</g>
</svg>
</body></html>
